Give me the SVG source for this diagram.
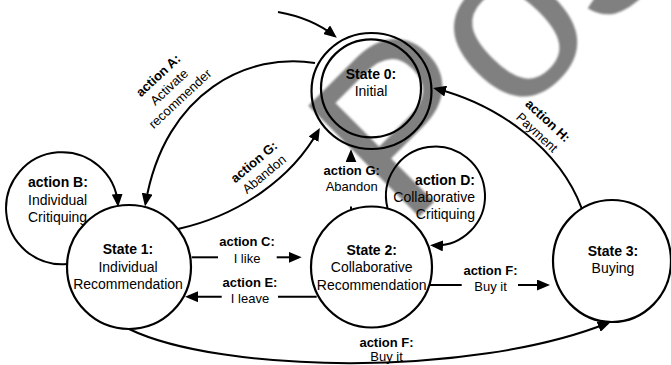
<svg xmlns="http://www.w3.org/2000/svg" width="671" height="365" viewBox="0 0 671 365">
<defs>
<style>
.st{fill:none;stroke:#000;stroke-width:2.2}
.cn{fill:none;stroke:#000;stroke-width:2}
text{font-family:"Liberation Sans",Arial,sans-serif;fill:#000}
.b{font-weight:bold}
.s14{font-size:14px}
.s13{font-size:13px}
.m{text-anchor:middle}
.e{text-anchor:end}
.wm{font-family:"Liberation Sans",Arial,sans-serif;font-size:228px;fill:#808080}
</style>
<marker id="ah" markerWidth="13" markerHeight="11" refX="10" refY="5.5" orient="auto" markerUnits="userSpaceOnUse">
<path d="M0,0 L13,5.5 L0,11 z" fill="#000"/>
</marker>
<filter id="soft" x="-10%" y="-10%" width="120%" height="120%">
<feGaussianBlur stdDeviation="1.3"/>
</filter>
</defs>
<rect width="671" height="365" fill="#fff"/>

<g id="watermark" filter="url(#soft)">
<text class="wm" transform="translate(406,230) rotate(-45)">Pos</text>
</g>

<g id="connectors">
<path class="cn" d="M278,12 Q312,18 334.5,36" marker-end="url(#ah)"/>
<path class="cn" d="M315,63 C250,52 165,90 145.5,203.5" marker-end="url(#ah)"/>
<path class="cn" d="M178,229 C240,215 292,178 318.4,130.5" marker-end="url(#ah)"/>
<path class="cn" d="M66.7,264 A56,56 0 1 1 117.9,204" marker-end="url(#ah)"/>
<path class="cn" d="M387.5,208 A49.5,49.5 0 1 1 433,245.4" marker-end="url(#ah)"/>
<path class="cn" d="M191.7,257.3 L218,257.3"/>
<path class="cn" d="M276.7,257.3 L298.7,257.3" marker-end="url(#ah)"/>
<path class="cn" d="M316.7,296.7 L278,296.7"/>
<path class="cn" d="M221.7,296.7 L188,296.7" marker-end="url(#ah)"/>
<path class="cn" d="M430,285 L461.7,285"/>
<path class="cn" d="M518,285 L547,285" marker-end="url(#ah)"/>
<path class="cn" d="M351,209.4 L351,206.5"/>
<path class="cn" d="M351,160 L351,152.3" marker-end="url(#ah)"/>
<path class="cn" d="M581.7,208.3 C560,150 500,105 436,88.7" marker-end="url(#ah)"/>
<path class="cn" d="M129,329 C220,373 470,378 607.9,323" marker-end="url(#ah)"/>
</g>

<g id="state0">
<ellipse class="st" cx="371.5" cy="91" rx="60" ry="58"/>
<ellipse class="st" cx="371" cy="88.3" rx="50" ry="49"/>
<text class="b s14 m" x="371" y="79">State 0:</text>
<text class="s14 m" x="371" y="96">Initial</text>
</g>

<g id="state1">
<circle class="st" cx="129" cy="267" r="62"/>
<text class="b s14 m" x="128" y="254.3">State 1:</text>
<text class="s14 m" x="128" y="271.7">Individual</text>
<text class="s14 m" x="128" y="289">Recommendation</text>
</g>

<g id="state2">
<circle class="st" cx="371.5" cy="267" r="60.5"/>
<text class="b s14 m" x="371.7" y="255">State 2:</text>
<text class="s14 m" x="371.7" y="272.3">Collaborative</text>
<text class="s14 m" x="371.7" y="290">Recommendation</text>
</g>

<g id="state3">
<ellipse class="st" cx="612" cy="261" rx="59" ry="61"/>
<text class="b s14 m" x="613" y="256">State 3:</text>
<text class="s14 m" x="613" y="273">Buying</text>
</g>

<g id="labels">
<g transform="translate(169,87) rotate(-43)">
<text class="b s13 m" x="0" y="-11.5">action A:</text>
<text class="s13 m" x="0" y="4.5">Activate</text>
<text class="s13 m" x="0" y="20.5">recommender</text>
</g>
<g transform="translate(259,168) rotate(-40)">
<text class="b s13 m" x="0" y="-3.5">action G:</text>
<text class="s13 m" x="0" y="12.5">Abandon</text>
</g>
<g transform="translate(542.5,126.6) rotate(43)">
<text class="b s13 m" x="0" y="-3.5">action H:</text>
<text class="s13 m" x="0" y="12.5">Payment</text>
</g>
<text class="b s14" x="28" y="187.3">action B:</text>
<text class="s14" x="28" y="205">Individual</text>
<text class="s14" x="28" y="221.7">Critiquing</text>
<text class="b s14 e" x="475" y="185">action D:</text>
<text class="s14 e" x="475" y="202">Collaborative</text>
<text class="s14 e" x="475" y="219">Critiquing</text>
<text class="b s13 m" x="247" y="246">action C:</text>
<text class="s13 m" x="247" y="263">I like</text>
<text class="b s13 m" x="250" y="286.7">action E:</text>
<text class="s13 m" x="250" y="302.7">I leave</text>
<text class="b s13 m" x="490.5" y="275">action F:</text>
<text class="s13 m" x="490.5" y="290.7">Buy it</text>
<text class="b s13 m" x="386.5" y="347">action F:</text>
<text class="s13 m" x="386.5" y="360.5">Buy it</text>
<text class="b s13 m" x="351.7" y="175">action G:</text>
<text class="s13 m" x="351.7" y="191">Abandon</text>
</g>
</svg>
